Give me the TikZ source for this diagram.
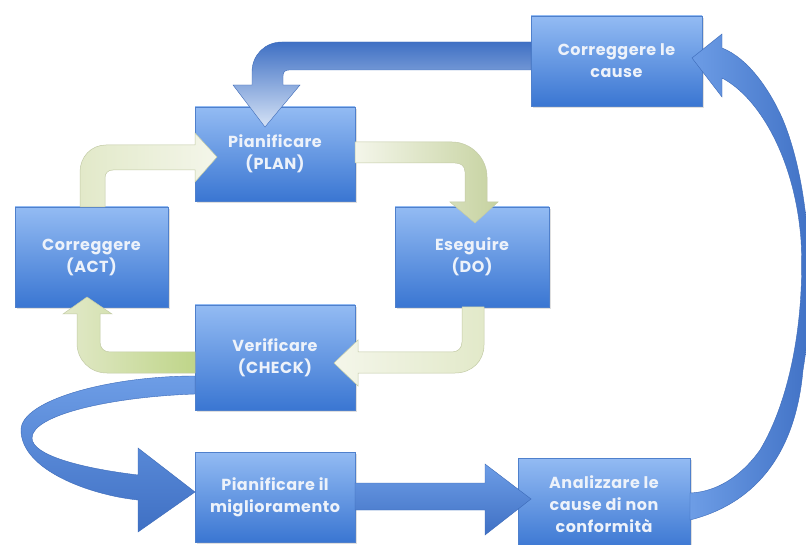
\documentclass[tikz,border=0pt]{standalone}
\usepackage{fontspec}
\setmainfont{Poppins}
\usetikzlibrary{shadows}
\definecolor{boxtop}{HTML}{93BBF3}
\definecolor{boxbot}{HTML}{3A76D2}
\definecolor{boxedge}{HTML}{4F80CC}
\definecolor{boxtext}{HTML}{EDF2FA}
\definecolor{gW}{HTML}{F4F6EA}
\definecolor{gP}{HTML}{E2E9C9}
\definecolor{gO}{HTML}{AFC184}
\definecolor{gL}{HTML}{C6D2A0}
\definecolor{gY}{HTML}{ABCB68}
\definecolor{gG}{HTML}{BFD589}
\definecolor{gedge}{HTML}{C3CBA6}
\definecolor{bD}{HTML}{3F70C4}
\definecolor{bM}{HTML}{4A80D6}
\definecolor{bL}{HTML}{6D9DE6}
\definecolor{bW}{HTML}{D6E3F6}
\definecolor{bedge}{HTML}{3C6AB8}
\begin{document}
\begin{tikzpicture}[x=1pt,y=-1pt,
  box/.style={rectangle, top color=boxtop, bottom color=boxbot, draw=boxedge,
    line width=0.6pt, text=boxtext, inner sep=0pt, align=center,
    font=\fontsize{16}{22}\selectfont\bfseries\addfontfeatures{LetterSpace=3},
    drop shadow={opacity=0.25, shadow xshift=1.5pt, shadow yshift=-2pt}},
  garrow/.style={draw=gedge, line width=0.5pt},
  barrow/.style={draw=bedge, line width=0.4pt}]
\useasboundingbox (0,0) rectangle (806,545);
\fill[white] (0,0) rectangle (806,545);

% boxes
\node[box, minimum width=160pt, minimum height=94pt]  (plan)  at (275,154)   {Pianificare\\(PLAN)};
\node[box, minimum width=153pt, minimum height=100pt] (act)   at (91.5,257)  {Correggere\\(ACT)};
\node[box, minimum width=154pt, minimum height=100pt] (do)    at (472,257)   {Eseguire\\(DO)};
\node[box, minimum width=160pt, minimum height=105pt] (check) at (275,357.5) {Verificare\\(CHECK)};
\node[box, minimum width=171pt, minimum height=90pt]  (cause) at (616.5,61)  {Correggere le\\cause};
\node[box, minimum width=160pt, minimum height=90pt]  (impr)  at (275,497)   {Pianificare il\\miglioramento};
\node[box, minimum width=172pt, minimum height=92pt]  (anal)  at (604,504)   {Analizzare le\\cause di non\\conformità};

% green arrows (PDCA cycle)
% ACT -> PLAN
\path[garrow, left color=gP, right color=gW]
  (80,207) -- (80,172) .. controls (80,157) and (91,145) .. (106,145)
  -- (195,145) -- (195,133) -- (217,157) -- (195,182) -- (195,170)
  -- (113,170) .. controls (108,170) and (105,173) .. (105,178) -- (105,207) -- cycle;
% PLAN -> DO
\path[garrow, left color=gW, middle color=gO, right color=gL]
  (355,142) -- (452,142) .. controls (471,142) and (487,158) .. (487,177)
  -- (487,202) -- (498,202) -- (475,223) -- (450,202) -- (465,202)
  -- (465,172) .. controls (465,166) and (461,163) .. (455,163) -- (355,163) -- cycle;
% DO -> CHECK
\path[garrow, left color=gW, middle color=gY, right color=gP]
  (462,307) -- (484,307) -- (484,345) .. controls (484,361) and (472,373) .. (455,373)
  -- (358,373) -- (358,386) -- (334,363) -- (358,340) -- (358,352)
  -- (452,352) .. controls (458,352) and (462,348) .. (462,342) -- cycle;
% CHECK -> ACT
\path[garrow, left color=gP, right color=gG]
  (195,352) -- (110,352) .. controls (104,352) and (100,348) .. (100,342)
  -- (100,314) -- (112,314) -- (87,297) -- (63,314) -- (77,314)
  -- (77,343) .. controls (77,360) and (90,373) .. (107,373) -- (195,373) -- cycle;

% blue arrows (improvement loop)
% CAUSE -> PLAN
\path[barrow, top color=bD, bottom color=bW]
  (531,42) -- (282,42) .. controls (265,42) and (252,55) .. (252,72)
  -- (252,85) -- (233,85) -- (265,127) -- (300,85) -- (283,85)
  -- (283,76) .. controls (283,72) and (285,70) .. (289,70) -- (531,70) -- cycle;
% CHECK -> IMPROVEMENT
\path[barrow, top color=bL, bottom color=bD]
  (195,376) .. controls (110,376) and (21,400) .. (21,430)
  .. controls (21,470) and (90,495) .. (138,500)
  -- (138,532) -- (195,492) -- (138,448) -- (138,475)
  .. controls (80,468) and (32,455) .. (32,438)
  .. controls (32,415) and (110,397) .. (195,394) -- cycle;
% IMPROVEMENT -> ANALYSE
\path[barrow, top color=bL, bottom color=bD]
  (355,483) -- (485,483) -- (485,464) -- (531,499) -- (485,535) -- (485,510) -- (355,510) -- cycle;
% ANALYSE -> CAUSE
\path[barrow, left color=bL, right color=bD]
  (690,493) .. controls (715,492) and (740,478) .. (760,450)
  .. controls (790,400) and (805,320) .. (801,240)
  .. controls (795,160) and (760,98) .. (722,78)
  -- (722,97) -- (692,58) -- (722,34) -- (722,48)
  .. controls (748,58) and (770,90) .. (783,120)
  .. controls (812,190) and (815,300) .. (803,370)
  .. controls (795,460) and (750,505) .. (690,520) -- cycle;
\end{tikzpicture}
\end{document}
